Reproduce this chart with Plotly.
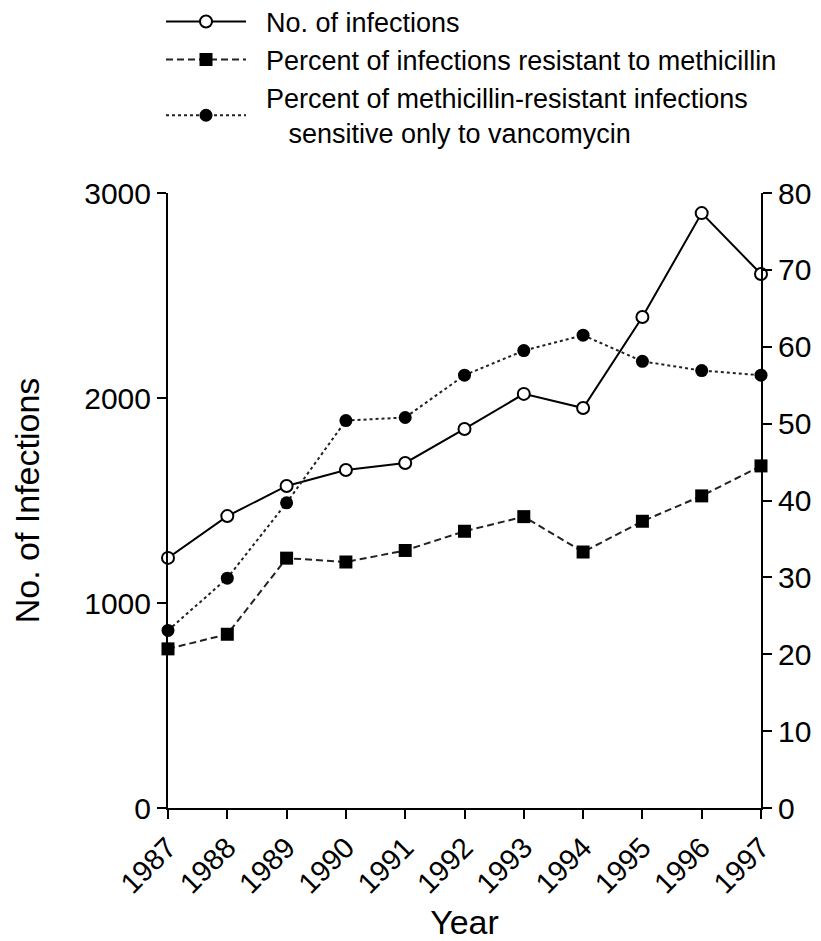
import plotly.graph_objects as go

years = [1987, 1988, 1989, 1990, 1991, 1992, 1993, 1994, 1995, 1996, 1997]
infections = [1220, 1424, 1571, 1649, 1683, 1849, 2020, 1951, 2395, 2902, 2605]
pct_methicillin = [20.7, 22.6, 32.5, 32.0, 33.5, 36.0, 37.9, 33.3, 37.3, 40.6, 44.5]
pct_vanco_only = [23.1, 29.9, 39.7, 50.4, 50.8, 56.3, 59.5, 61.5, 58.1, 56.9, 56.3]

left_ticks = [0, 1000, 2000, 3000]
right_ticks = [0, 10, 20, 30, 40, 50, 60, 70, 80]

NB = "\u00a0"
names = [
    NB * 2 + "No. of infections",
    NB * 2 + "Percent of infections resistant to methicillin",
    NB * 2 + "Percent of methicillin-resistant infections<br>" + NB * 5 + "sensitive only to vancomycin",
]

FONT = "Liberation Sans, Arial, Helvetica, sans-serif"

fig = go.Figure()
fig.add_trace(go.Scatter(
    x=years, y=infections, name=names[0], yaxis="y", mode="lines+markers",
    line=dict(color="black", width=2),
    marker=dict(symbol="circle", size=12, color="white", line=dict(color="black", width=2)),
    cliponaxis=False,
))
fig.add_trace(go.Scatter(
    x=years, y=pct_methicillin, name=names[1], yaxis="y2", mode="lines+markers",
    line=dict(color="#222222", width=2, dash="7px,4px"),
    marker=dict(symbol="square", size=13, color="black"),
    cliponaxis=False,
))
fig.add_trace(go.Scatter(
    x=years, y=pct_vanco_only, name=names[2], yaxis="y2", mode="lines+markers",
    line=dict(color="#222222", width=2, dash="3px,3px"),
    marker=dict(symbol="circle", size=13, color="black"),
    cliponaxis=False,
))

line_common = dict(
    showline=True, linecolor="black", linewidth=2,
    ticks="outside", ticklen=9, tickwidth=2, tickcolor="black",
    showgrid=False, zeroline=False, automargin=False,
)

fig.update_layout(
    width=813, height=933,
    margin=dict(l=160, r=60, t=185, b=133, autoexpand=False),
    paper_bgcolor="white", plot_bgcolor="white",
    font=dict(family=FONT, color="black"),
    showlegend=True,
    legend=dict(
        x=-0.0118, y=1.318, xanchor="left", yanchor="top",
        bgcolor="rgba(0,0,0,0)", borderwidth=0,
        font=dict(family=FONT, size=27, color="black"),
        itemwidth=80, tracegroupgap=0,
    ),
    xaxis=dict(
        range=[1987, 1997], tickvals=years, ticktext=[str(y) for y in years],
        tickangle=-45,
        tickfont=dict(family=FONT, size=29, color="black"),
        title=dict(text="Year", font=dict(family=FONT, size=34, color="black"), standoff=16),
        **line_common,
    ),
    yaxis=dict(
        range=[0, 3000], tickvals=left_ticks,
        tickfont=dict(family=FONT, size=30, color="black"),
        title=dict(text="No. of Infections", font=dict(family=FONT, size=34, color="black"), standoff=35),
        **line_common,
    ),
    yaxis2=dict(
        range=[0, 80], tickvals=right_ticks, overlaying="y", side="right",
        tickfont=dict(family=FONT, size=30, color="black"),
        **line_common,
    ),
)

fig.write_html("out.html")
